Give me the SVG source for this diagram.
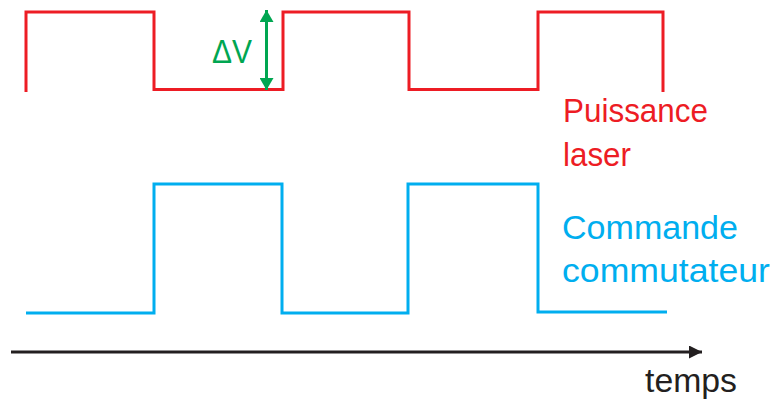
<svg xmlns="http://www.w3.org/2000/svg" width="774" height="401" viewBox="0 0 774 401">
<defs>
<style>
.wave{fill:none;stroke-width:3;stroke-linejoin:miter}
.red{stroke:#ED1C24}
.blue{stroke:#00AEEF}
.lbl{font-family:"Liberation Sans",Arial,sans-serif;font-size:33px}
</style>
<marker id="arrK" viewBox="0 0 13 13" refX="13" refY="6.5" markerWidth="13" markerHeight="13" markerUnits="userSpaceOnUse" orient="auto"><path d="M0,0L13,6.5L0,13Z" fill="#231F20"/></marker>
<marker id="arrG" viewBox="0 0 12 14" refX="12" refY="7" markerWidth="12" markerHeight="14" markerUnits="userSpaceOnUse" orient="auto"><path d="M0,0L12,7L0,14Z" fill="#00A651"/></marker>
</defs>
<rect width="774" height="401" fill="#fff"/>
<g id="laser">
<path class="wave red" d="M26,92V12H154V89.5H283V12H409V89.5H538V12H663V92"/>
<text class="lbl" x="563" y="122" fill="#ED1C24" textLength="145" lengthAdjust="spacingAndGlyphs">Puissance</text>
<text class="lbl" x="563" y="166" fill="#ED1C24" textLength="68" lengthAdjust="spacingAndGlyphs">laser</text>
</g>
<g id="commande">
<path class="wave blue" d="M26,313H154V184H282V313H408V184H538V312H667"/>
<text class="lbl" x="562" y="239" fill="#00AEEF" textLength="176" lengthAdjust="spacingAndGlyphs">Commande</text>
<text class="lbl" x="562" y="282" fill="#00AEEF" textLength="208" lengthAdjust="spacingAndGlyphs">commutateur</text>
</g>
<g id="deltaV">
<text class="lbl" x="212" y="63" fill="#00A651" textLength="40" lengthAdjust="spacingAndGlyphs">ΔV</text>
</g>
<g id="connectors">
<line x1="266.5" y1="45" x2="266.5" y2="10" stroke="#00A651" stroke-width="3" marker-end="url(#arrG)"/>
<line x1="266.5" y1="45" x2="266.5" y2="90" stroke="#00A651" stroke-width="3" marker-end="url(#arrG)"/>
<line x1="11" y1="352" x2="702" y2="352" stroke="#231F20" stroke-width="3" marker-end="url(#arrK)"/>
</g>
<g id="axis">
<text class="lbl" x="645" y="392" fill="#231F20" textLength="92" lengthAdjust="spacingAndGlyphs">temps</text>
</g>
</svg>
